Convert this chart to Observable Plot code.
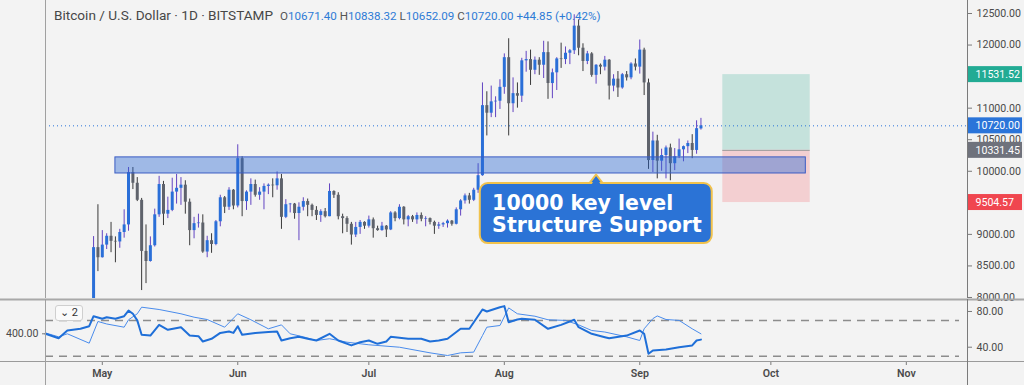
<!DOCTYPE html>
<html><head><meta charset="utf-8">
<script src="https://cdn.jsdelivr.net/npm/d3@7"></script>
<script src="https://cdn.jsdelivr.net/npm/@observablehq/plot@0.6"></script>
<style>
body{margin:0;background:#f3f3f3;}
#wrap{position:relative;width:1024px;height:385px;background:#f3f3f3;overflow:hidden;font-family:Roboto,sans-serif;}
#main{position:absolute;left:0;top:0;}
#osc{position:absolute;left:0;top:298px;}
#title{position:absolute;left:54px;top:8px;font-size:13.6px;line-height:14px;color:#474747;white-space:nowrap;}
#title .ohlc{font-size:11.6px;margin-left:7px;}
#title .k{color:#555;}
#title .v{color:#2e7bd6;}
#btn{position:absolute;left:55px;top:305px;width:26px;height:14px;border:1px solid #cfcfcf;border-radius:3px;background:#fafafa;font-size:11px;line-height:14px;color:#333;text-align:center;}
</style></head>
<body>
<div id="wrap">
  <div id="main"></div>
  <div id="osc"></div>
  <div id="title">Bitcoin / U.S. Dollar · 1D · BITSTAMP<span class="ohlc"><span class="k">O</span><span class="v">10671.40</span> <span class="k">H</span><span class="v">10838.32</span> <span class="k">L</span><span class="v">10652.09</span> <span class="k">C</span><span class="v">10720.00</span> <span class="v">+44.85 (+0.42%)</span></span></div>
  <div id="btn">⌄ 2</div>
</div>
<script>
// ---- Data ----
const firstCandle = "2020-04-29";
const opens = [7760,8790,
 8630,8830,8970,8890,8880,9030,9150,9980,9810,9540,8730,8570,8820,9310,9790,9320,9380,9670,9730,9780,9510,9060,9170,9180,8720,8900,8840,9200,9580,9430,9700,
 9450,10200,9520,9670,9790,9620,9670,9760,9780,9770,9880,9270,9470,9480,9330,9430,9520,9460,9380,9300,9360,9280,9680,9620,9280,9250,9160,8990,9110,9190,
 9130,9230,9090,9060,9130,9070,9340,9250,9430,9230,9280,9230,9300,9240,9250,9190,9130,9150,9170,9210,9160,9390,9530,9610,9540,9700,9930,11040,10920,11100,11110,
 11330,11800,11070,11230,11190,11750,11770,11600,11760,11680,11880,11390,11560,11780,11770,11870,11910,12300,11950,11740,11860,11520,11680,11650,11760,11350,11460,11320,11530,11480,11700,
 11650,11920,11400,10170,10480,10160,10250,10370,10120,10230,10340,10390,10440,10330,10671.40];
const highs = [8965,9470,
 9060,9010,9190,8960,9080,9390,10060,10060,9900,9570,9150,8960,9400,9920,9840,9590,9890,9950,9900,9850,9560,9270,9320,9310,8970,9010,9220,9620,9600,9740,9710,
 10420,10230,9690,9880,9860,9740,9800,9800,9880,9990,9950,9550,9490,9490,9500,9580,9560,9480,9440,9390,9410,9800,9690,9660,9320,9280,9190,9190,9220,9200,
 9290,9260,9130,9190,9140,9360,9360,9470,9440,9300,9300,9340,9340,9280,9260,9210,9190,9190,9230,9220,9420,9550,9640,9650,9730,10120,11400,11260,11350,11180,11450,
 11860,12100,11480,11400,11790,11900,11920,11810,11800,12060,12050,11620,11800,12030,11970,11930,12480,12400,12020,11900,11880,11690,11700,11820,11770,11530,11580,11550,11580,11720,11780,
 12080,11950,11460,10620,10570,10350,10400,10430,10360,10510,10400,10480,10580,10800,10838.32];
const lows = [7730,8410,
 8625,8760,8710,8550,8780,8940,9050,9710,9520,8110,8220,8560,8800,9270,9140,9250,9360,9480,9460,9320,8820,8930,9100,8700,8630,8700,8820,9120,9330,9380,9390,
 9420,9280,9380,9460,9590,9540,9390,9630,9580,9700,9080,9250,9340,9240,8900,9370,9280,9280,9220,9190,9260,9280,9570,9230,9010,9030,8830,8950,9000,9080,
 9100,8940,9050,9050,8950,9060,9200,9230,9150,9120,9190,9160,9200,9120,9150,9000,9080,9110,9100,9130,9150,9290,9480,9480,9520,9650,9920,10560,10850,10850,10980,
 11220,10560,10930,11000,11090,11570,11360,11530,11520,11470,11140,11150,11280,11630,11690,11690,11850,11830,11580,11690,11490,11380,11530,11590,11130,11260,11170,11300,11430,11450,11590,
 11540,11200,10030,9980,9880,10000,9880,9850,10010,10200,10150,10280,10200,10270,10652.09];
const closes = [8790,8630,
 8830,8970,8890,8880,9030,9150,9980,9810,9540,8730,8570,8820,9310,9790,9320,9380,9670,9730,9780,9510,9060,9170,9180,8720,8900,8840,9200,9580,9430,9700,9450,
 10200,9520,9670,9790,9620,9670,9760,9780,9770,9880,9270,9470,9480,9330,9430,9520,9460,9380,9300,9360,9280,9680,9620,9280,9250,9160,8990,9110,9190,9130,
 9230,9090,9060,9130,9070,9340,9250,9430,9230,9280,9230,9300,9240,9250,9190,9130,9150,9170,9210,9160,9390,9530,9610,9540,9700,9930,11040,10920,11100,11110,11330,
 11800,11070,11230,11190,11750,11770,11600,11760,11680,11880,11390,11560,11780,11770,11870,11910,12300,11950,11740,11860,11520,11680,11650,11760,11350,11460,11320,11530,11480,11700,11650,
 11920,11400,10170,10480,10160,10250,10370,10120,10230,10340,10390,10440,10330,10675,10720.00];

const rsiDates = ["2020-04-18","2020-04-21","2020-04-23","2020-04-26","2020-04-28","2020-04-29","2020-05-01","2020-05-02","2020-05-04","2020-05-06","2020-05-07","2020-05-08","2020-05-09","2020-05-10","2020-05-12","2020-05-14","2020-05-16","2020-05-19","2020-05-21","2020-05-23","2020-05-24","2020-05-26","2020-05-28","2020-05-30","2020-05-31","2020-06-01","2020-06-02","2020-06-05","2020-06-08","2020-06-10","2020-06-11","2020-06-13","2020-06-15","2020-06-17","2020-06-19","2020-06-22","2020-06-24","2020-06-27","2020-06-29","2020-07-01","2020-07-03","2020-07-05","2020-07-06","2020-07-08","2020-07-10","2020-07-13","2020-07-15","2020-07-17","2020-07-19","2020-07-22","2020-07-24","2020-07-27","2020-07-28","2020-07-31","2020-08-01","2020-08-02","2020-08-04","2020-08-05","2020-08-08","2020-08-11","2020-08-14","2020-08-17","2020-08-18","2020-08-21","2020-08-24","2020-08-25","2020-08-29","2020-09-01","2020-09-02","2020-09-03","2020-09-04","2020-09-07","2020-09-10","2020-09-13","2020-09-14","2020-09-15"];
const rsiValues = [55,50,58.7,60.6,63.5,74.7,71.8,73.6,71.8,74.7,81,77.4,70,53.9,53,65,59.5,62.4,53,52.3,46.4,49.4,56,57.6,56,63.5,53.9,56,57,57.6,47.5,50,51.6,49.5,47.5,55,47.5,42,45.6,47.5,43.8,46.4,51.6,50.5,49.5,49.5,46.4,47.5,49.5,60.6,60.6,82.2,80,84.8,86,68,71,71.8,70.7,60.6,65,70.7,62.4,55,51.2,50,53,58.7,55,32.6,36.3,37.4,40,42,47.5,48.5];
const sigDates = ["2020-04-18","2020-04-21","2020-04-23","2020-04-28","2020-04-30","2020-05-02","2020-05-06","2020-05-07","2020-05-09","2020-05-10","2020-05-14","2020-05-19","2020-05-22","2020-05-25","2020-05-29","2020-06-01","2020-06-04","2020-06-08","2020-06-11","2020-06-13","2020-06-16","2020-06-19","2020-06-22","2020-06-26","2020-07-01","2020-07-08","2020-07-15","2020-07-19","2020-07-22","2020-07-25","2020-07-27","2020-07-28","2020-07-31","2020-08-02","2020-08-04","2020-08-08","2020-08-11","2020-08-15","2020-08-18","2020-08-21","2020-08-24","2020-08-29","2020-09-01","2020-09-02","2020-09-04","2020-09-05","2020-09-07","2020-09-10","2020-09-13","2020-09-15"];
const sigValues = [56,51.6,55,44.5,68.8,66,62.4,70.7,77.4,84.8,82.2,77.4,73.6,71,62.4,77.4,70.7,60.6,65,55,51.6,47.5,49.5,45.6,42.7,40,33.7,30.7,33.7,34.5,53,62.4,64.3,84,77.4,74.7,70.7,70,65,58.7,57,51.6,47.5,60.6,72,75,71,70,60.6,55];

const priceTicks = [8000,8500,9000,10000,10500,11000,12000,12500];
const oscTicks = [40,80];
const oscBands = [70,30];
const leftScaleLabel = {label:"400.00", at:55};
const monthTicks = ["2020-05-01","2020-06-01","2020-07-01","2020-08-01","2020-09-01","2020-10-01","2020-11-01"];

const zone = {x1:"2020-05-04", x2:"2020-10-09", low:9965, high:10220};
const position = {x1:"2020-09-20", x2:"2020-10-10", target:11531.52, entry:10331.45, stop:9504.57};
const lastPrice = 10720.00;
const priceTags = [
  {value:11531.52, color:"#22ab94"},
  {value:10720.00, color:"#2a74d9"},
  {value:10331.45, color:"#6f727c"},
  {value:9504.57, color:"#f0464f"}
];
const callout = {text:"10000 key level\nStructure Support", x1:"2020-07-26T12:00Z", x2:"2020-09-17T14:00Z",
  top:9806, bottom:8855, textX:"2020-07-29T05:00Z", textY:9320,
  pointerX:"2020-08-22", pointerHalfDays:1.6, pointerTip:9949};

// ---- Build ----
const D = s => new Date(s.length <= 10 ? s + "T00:00Z" : s);
const day0 = D(firstCandle);
const candles = opens.map((o,i)=>({date:d3.utcDay.offset(day0,i), open:o, high:highs[i], low:lows[i], close:closes[i]}));
const up = candles.filter(d=>d.close>=d.open), down = candles.filter(d=>d.close<d.open);
const rsi = rsiDates.map((d,i)=>({date:D(d), v:rsiValues[i]}));
const sig = sigDates.map((d,i)=>({date:D(d), v:sigValues[i]}));

const W = 1024, ML = 45, MR = 57;
const frameW = W - ML - MR;
const xDomain = [D("2020-04-18"), D("2020-11-15")];
const style = {background:"transparent", fontFamily:"Roboto, sans-serif", fontSize:"10.6px", color:"#4a4a4a", overflow:"visible"};

const pDate = D(callout.pointerX);
const half = callout.pointerHalfDays*864e5;
const pointer = [
  {date:new Date(+pDate-half), p:callout.top},
  {date:pDate, p:callout.pointerTip},
  {date:new Date(+pDate+half), p:callout.top}
];
const pointerFill = [
  {date:new Date(+pDate-half*0.7), p:callout.top-25},
  {date:pDate, p:callout.pointerTip-40},
  {date:new Date(+pDate+half*0.7), p:callout.top-25}
];

const tagMarks = priceTags.flatMap(t=>[
  Plot.rect([t], {y1:"value", y2:"value", insetTop:-8, insetBottom:-8, insetLeft:frameW+1, insetRight:-(MR-2), fill:t.color}),
  Plot.text([t], {y:"value", text:d=>d.value.toFixed(2), frameAnchor:"right", textAnchor:"start", dx:8, fill:"#ffffff", fontSize:10.6})
]);

const main = Plot.plot({
  width:W, height:298, marginLeft:ML, marginRight:MR, marginTop:0, marginBottom:0,
  style,
  x:{type:"utc", domain:xDomain, axis:null},
  y:{domain:[7984,12706], axis:null},
  marks:[
    Plot.rect([position], {x1:d=>D(d.x1), x2:d=>D(d.x2), y1:"entry", y2:"target", fill:"#c5e2dc"}),
    Plot.rect([position], {x1:d=>D(d.x1), x2:d=>D(d.x2), y1:"stop", y2:"entry", fill:"#f3cfd1"}),
    Plot.ruleY([position], {y:"entry", x1:d=>D(d.x1), x2:d=>D(d.x2), stroke:"#9a9a9a"}),
    Plot.ruleY([lastPrice], {stroke:"#2a74d9", strokeDasharray:"1,3"}),
    Plot.ruleX(up, {x:"date", y1:"low", y2:"high", stroke:"#6244c2", strokeWidth:1, clip:true}),
    Plot.ruleX(down, {x:"date", y1:"low", y2:"high", stroke:"#3a3a3a", strokeWidth:1, clip:true}),
    Plot.ruleX(up, {x:"date", y1:"open", y2:"close", stroke:"#2a6fd8", strokeWidth:3, clip:true}),
    Plot.ruleX(down, {x:"date", y1:"open", y2:"close", stroke:"#5e626b", strokeWidth:3, clip:true}),
    Plot.rect([zone], {x1:d=>D(d.x1), x2:d=>D(d.x2), y1:"low", y2:"high", fill:"#2c68d4", fillOpacity:0.42, stroke:"#3a5cc4", strokeWidth:1}),
    Plot.line(pointer, {x:"date", y:"p", fill:"#2b73d6", stroke:"#f1c24c", strokeWidth:2}),
    Plot.rect([callout], {x1:d=>D(d.x1), x2:d=>D(d.x2), y1:"bottom", y2:"top", rx:8, fill:"#2b73d6", stroke:"#f1c24c", strokeWidth:2}),
    Plot.line(pointerFill, {x:"date", y:"p", fill:"#2b73d6", stroke:"none"}),
    Plot.text([callout], {x:d=>D(d.textX), y:"textY", text:"text", textAnchor:"start", lineAnchor:"middle", lineHeight:1.04, fill:"#ffffff", fontSize:20.5, fontWeight:"bold", fontFamily:"DejaVu Sans"}),
    Plot.ruleX([xDomain[0]], {stroke:"#a0a0a0"}),
    Plot.ruleX([xDomain[1]], {stroke:"#7a7a7a"}),
    Plot.axisY({anchor:"right", label:null, ticks:priceTicks, tickFormat:d=>d.toFixed(2), tickSize:4, tickPadding:5, fill:"#4a4a4a", stroke:"#7a7a7a"}),
    ...tagMarks
  ]
});
document.getElementById("main").append(main);

const osc = Plot.plot({
  width:W, height:87, marginLeft:ML, marginRight:MR, marginTop:1, marginBottom:24,
  style,
  x:{type:"utc", domain:xDomain, axis:null},
  y:{domain:[24,93.4], axis:null},
  marks:[
    Plot.ruleY(oscBands, {stroke:"#8c8c8c", strokeDasharray:"8,6", strokeWidth:1.5, insetRight:8}),
    Plot.line(sig, {x:"date", y:"v", stroke:"#4a8cec", strokeWidth:1}),
    Plot.line(rsi, {x:"date", y:"v", stroke:"#1f6fd8", strokeWidth:2}),
    Plot.axisY({anchor:"right", label:null, ticks:oscTicks, tickFormat:d=>d.toFixed(2), tickSize:4, tickPadding:5, fill:"#4a4a4a", stroke:"#7a7a7a"}),
    Plot.axisY({anchor:"left", label:null, ticks:[leftScaleLabel.at], tickFormat:()=>leftScaleLabel.label, tickSize:3, tickPadding:4, fill:"#4a4a4a", stroke:"#7a7a7a"}),
    Plot.axisX({anchor:"bottom", label:null, ticks:monthTicks.map(D), tickFormat:d3.utcFormat("%b"), tickSize:4, tickPadding:4, fill:"#4a4a4a", stroke:"#7a7a7a", fontWeight:"600"}),
    Plot.ruleY([93.4], {stroke:"#a8a8a8", strokeWidth:2, insetLeft:-ML, insetRight:-MR}),
    Plot.ruleY([24], {stroke:"#9a9a9a", strokeWidth:1, insetLeft:-ML, insetRight:-MR}),
    Plot.ruleX([xDomain[0]], {stroke:"#a0a0a0", insetBottom:-24}),
    Plot.ruleX([xDomain[1]], {stroke:"#7a7a7a", insetBottom:-24})
  ]
});
document.getElementById("osc").append(osc);
</script>
</body></html>
